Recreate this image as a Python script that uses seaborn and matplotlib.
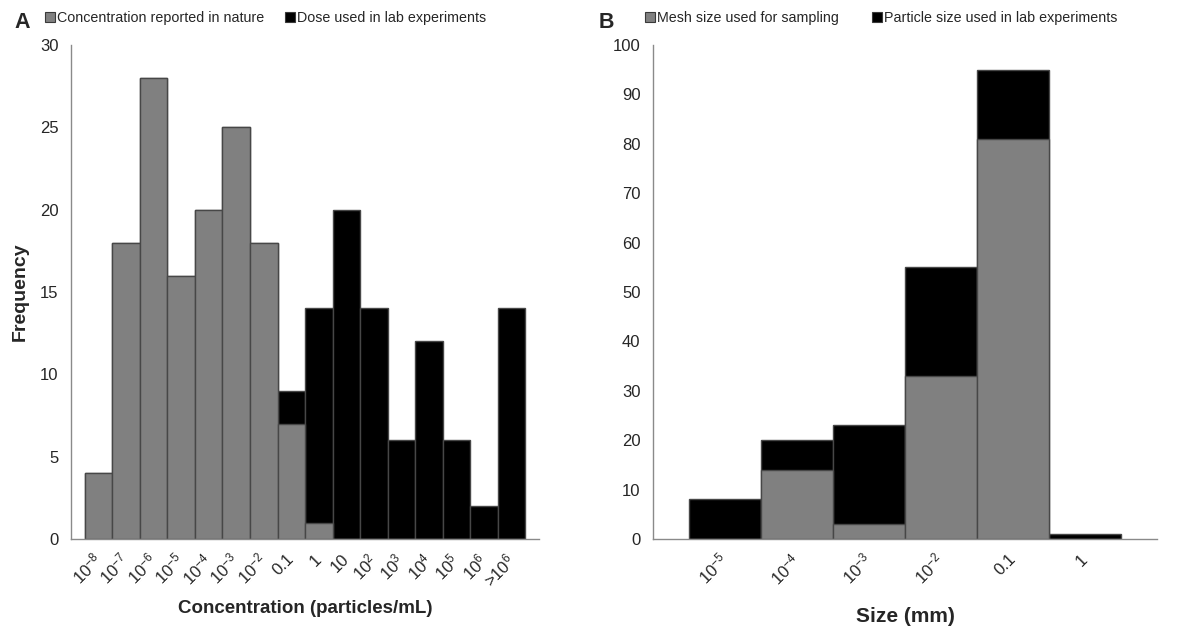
import matplotlib
matplotlib.use("Agg")
import matplotlib.pyplot as plt
import matplotlib.transforms as mtransforms
import seaborn as sns
import pandas as pd
import numpy as np
from matplotlib.lines import Line2D

# Panel A: concentration bins
conc_bins = [r"$10^{-8}$", r"$10^{-7}$", r"$10^{-6}$", r"$10^{-5}$", r"$10^{-4}$",
             r"$10^{-3}$", r"$10^{-2}$", "0.1", "1", "10", r"$10^{2}$", r"$10^{3}$",
             r"$10^{4}$", r"$10^{5}$", r"$10^{6}$", r">$10^{6}$"]
conc_nature = [4, 18, 28, 16, 20, 25, 18, 7, 1, 0, 0, 0, 0, 0, 0, 0]
conc_lab = [0, 0, 0, 0, 0, 0, 0, 2, 13, 20, 14, 6, 12, 6, 2, 14]

# Panel B: size bins
size_bins = [r"$10^{-5}$", r"$10^{-4}$", r"$10^{-3}$", r"$10^{-2}$", "0.1", "1"]
size_mesh = [0, 14, 3, 33, 81, 0]
size_lab = [8, 6, 20, 22, 14, 1]

GRAY = "#808080"
BLACK = "#000000"
EDGE = "#474747"
AXC = "#8a8a8a"

sns.set_style("white")
plt.rcParams["font.family"] = ["Liberation Sans", "DejaVu Sans"]
plt.rcParams["mathtext.fontset"] = "custom"
plt.rcParams["mathtext.rm"] = "Liberation Sans"
plt.rcParams["mathtext.it"] = "Liberation Sans:italic"
plt.rcParams["mathtext.bf"] = "Liberation Sans:bold"

fig = plt.figure(figsize=(11.88, 6.29), dpi=100)
axA = fig.add_axes([0.0598, 0.1431, 0.3940, 0.7854])
axB = fig.add_axes([0.5497, 0.1431, 0.4242, 0.7854])


def stacked(ax, bins, lower, upper, ymax, ystep, dx, dy):
    n = len(bins)
    df = pd.DataFrame({"bin": bins,
                       "lower": lower,
                       "total": np.array(lower) + np.array(upper)})
    # full-height black bars, then the grey share drawn over their base
    sns.barplot(data=df, x="bin", y="total", order=bins, color=BLACK,
                saturation=1, width=1, edgecolor=EDGE, linewidth=1,
                errorbar=None, ax=ax)
    sns.barplot(data=df, x="bin", y="lower", order=bins, color=GRAY,
                saturation=1, width=1, edgecolor=EDGE, linewidth=1,
                errorbar=None, ax=ax)
    ax.set_xlim(-1, n)
    ax.set_ylim(0, ymax)
    ax.set_xticks(np.arange(-1, n + 1))
    ax.set_xticklabels([""] + list(bins) + [""])
    ax.set_yticks(np.arange(0, ymax + 1, ystep))
    shift = mtransforms.ScaledTranslation(dx / 100, -dy / 100, fig.dpi_scale_trans)
    for lab in ax.get_xticklabels():
        lab.set_rotation(45)
        lab.set_ha("right")
        lab.set_va("center")
        lab.set_rotation_mode("anchor")
        lab.set_transform(lab.get_transform() + shift)
    ax.tick_params(axis="x", direction="out", length=4, width=1, color=AXC,
                   pad=9, labelsize=12)
    ax.tick_params(axis="y", direction="out", length=4, width=1, color=AXC,
                   pad=5, labelsize=12)
    sns.despine(ax=ax)
    for s in ("left", "bottom"):
        ax.spines[s].set_color(AXC)
        ax.spines[s].set_linewidth(1)


stacked(axA, conc_bins, conc_nature, conc_lab, 30, 5, -4, 4)
stacked(axB, size_bins, size_mesh, size_lab, 100, 10, 7, 4)

axA.set_xlabel("Concentration (particles/mL)", fontsize=13.5, fontweight="bold")
axA.xaxis.set_label_coords(0.5, -0.123)
axA.set_ylabel("Frequency", fontsize=14, fontweight="bold", va="center")
axA.yaxis.set_label_coords(-0.109, 0.5)
axB.set_xlabel("Size (mm)", fontsize=15, fontweight="bold")
axB.xaxis.set_label_coords(0.5, -0.138)
axB.set_ylabel("")


def square(fc):
    return Line2D([], [], marker="s", ls="", markersize=7.5,
                  markerfacecolor=fc, markeredgecolor="#3a3a3a",
                  markeredgewidth=0.8)


legA = fig.legend([square(GRAY), square(BLACK)],
                  ["Concentration reported in nature", "Dose used in lab experiments"],
                  loc="center left", bbox_to_anchor=(0.0375, 0.972), ncol=2,
                  frameon=False, fontsize=10.3, handlelength=0.7,
                  handletextpad=0.15, columnspacing=1.45, borderpad=0,
                  borderaxespad=0)
legB = fig.legend([square(GRAY), square(BLACK)],
                  ["Mesh size used for sampling", "Particle size used in lab experiments"],
                  loc="center left", bbox_to_anchor=(0.543, 0.972), ncol=2,
                  frameon=False, fontsize=10.3, handlelength=0.7,
                  handletextpad=0.15, columnspacing=2.3, borderpad=0,
                  borderaxespad=0)

fig.text(0.0125, 0.965, "A", fontsize=15.5, fontweight="bold", va="center", ha="left")
fig.text(0.504, 0.965, "B", fontsize=15.5, fontweight="bold", va="center", ha="left")

fig.savefig("out.png", dpi=100)
